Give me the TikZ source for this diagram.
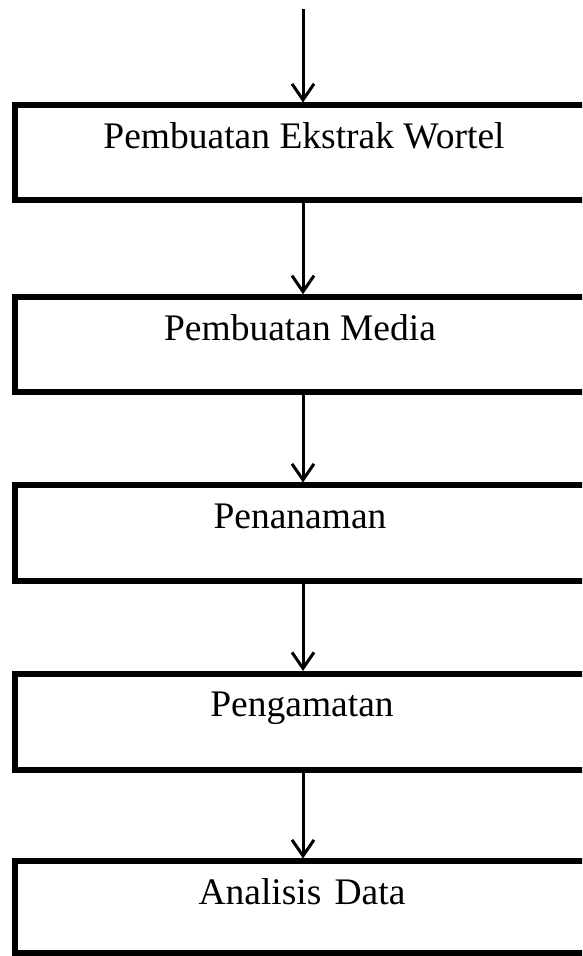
\documentclass[tikz,border=0pt]{standalone}
\usepackage{fontspec}
\setmainfont{Liberation Serif}
\usetikzlibrary{arrows.meta,calc}
\begin{document}
\begin{tikzpicture}[x=1pt,y=1pt,
  stepbox/.style={draw=black, line width=6pt, rectangle, minimum width=576pt, inner sep=0pt, anchor=north west},
  steptext/.style={anchor=base, inner sep=0pt, font=\fontsize{37.5}{40}\selectfont},
  flow/.style={draw=black, line width=3pt, -{Straight Barb[length=16pt,width=22pt]}}]
\useasboundingbox (0,0) rectangle (582,956);
\begin{scope}
\clip (0,0) rectangle (582,956);
\node[stepbox, minimum height=94.5pt] (b1) at (12,853.5) {};
\node[stepbox, minimum height=95.2pt] (b2) at (12,661.7) {};
\node[stepbox, minimum height=95.2pt] (b3) at (12,473.5) {};
\node[stepbox, minimum height=96pt] (b4) at (12,285) {};
\node[stepbox, minimum height=91.5pt] (b5) at (12,97.5) {};
\end{scope}
\node[steptext] (t1) at ($(b1.north)+(1,-46)$) {Pembuatan Ekstrak Wortel};
\node[steptext] (t2) at ($(b2.north)+(-3,-46)$) {Pembuatan Media};
\node[steptext] (t3) at ($(b3.north)+(-3,-46)$) {Penanaman};
\node[steptext] (t4) at ($(b4.north)+(-1,-46)$) {Pengamatan};
\node[steptext] (t5) at ($(b5.north)+(-1,-46)$) {Analisis\hspace{0.35em}Data};
\coordinate (start) at (303,947);
\draw[flow] (start) -- (b1.north);
\draw[flow] (b1.south) -- (b2.north);
\draw[flow] (b2.south) -- (b3.north);
\draw[flow] (b3.south) -- (b4.north);
\draw[flow] (b4.south) -- (b5.north);
\end{tikzpicture}
\end{document}
